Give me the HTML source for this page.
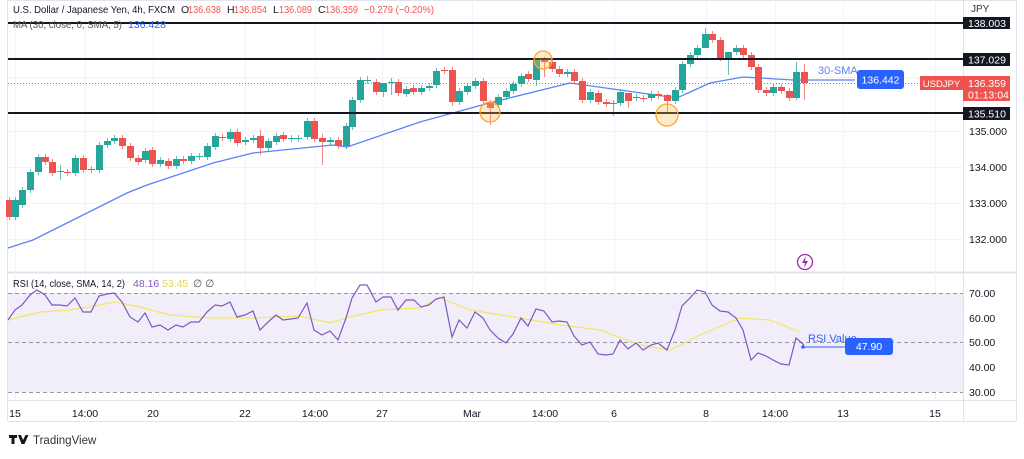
<!DOCTYPE html>
<html><head><meta charset="utf-8"><style>
html,body{margin:0;padding:0;background:#fff;}
body{width:1024px;height:454px;overflow:hidden;font-family:"Liberation Sans",sans-serif;}
svg text{font-family:"Liberation Sans",sans-serif;}
</style></head><body>
<svg id="s" width="1024" height="454" viewBox="0 0 1024 454" xmlns="http://www.w3.org/2000/svg">
<rect x="0" y="0" width="1024" height="454" fill="#fff"/>
<rect x="7.5" y="0.5" width="1009" height="421" fill="none" stroke="#e0e3eb"/>
<line x1="963.5" y1="0" x2="963.5" y2="422" stroke="#e0e3eb"/>
<line x1="8" y1="272.5" x2="1016" y2="272.5" stroke="#e0e3eb" stroke-width="2"/>
<line x1="8" y1="400.5" x2="1016" y2="400.5" stroke="#e0e3eb"/>
<rect x="8" y="293" width="955" height="99" fill="#7e57c2" fill-opacity="0.1"/>
<g id="grid" stroke="#f0f3fa"></g>
<g id="main"></g>
</svg>
<script>
const s=document.getElementById('main');const g=document.getElementById('grid');
const NS='http://www.w3.org/2000/svg';
function el(t,a,p){const e=document.createElementNS(NS,t);for(const k in a)e.setAttribute(k,a[k]);(p||s).appendChild(e);return e;}
function tx(x,y,str,a){const e=el('text',Object.assign({x:x,y:y,'font-size':10,fill:'#131722'},a||{}));e.textContent=str;return e;}
[15,85,153,245,315,382,472,545,614,706,775,843,935].forEach(x=>{el('line',{x1:x+.5,y1:0,x2:x+.5,y2:400},g);});
[131,167,203,239,77].forEach(y=>el('line',{x1:8,y1:y+.5,x2:963,y2:y+.5},g));
[318,367].forEach(y=>el('line',{x1:8,y1:y+.5,x2:963,y2:y+.5},g));
el('polyline',{points:"8,248 33,240 73,220 127,193 147,185 213,163 253,153 333,145 347,147 420,122 493,102 570,83 677,98 710,83 743,77 793,80 855,80",fill:'none',stroke:'#5b83f5','stroke-width':1.3});
const C=[[9,200,217],[15,217,200],[22,205,190],[30,190,172],[38,172,157],[45,157,162],[52,162,173],[60,172,171],[67,172,173],[75,173,158],[83,158,170],[91,170,169],[99,170,145],[107,145,141],[114,141,138],[122,138,146],[130,146,158],[138,158,162],[145,160,151],[152,150,164],[160,164,160],[168,161,166],[176,166,159],[183,159,161],[191,161,156],[199,157,156],[207,157,146],[215,147,136],[222,137,138],[230,139,132],[237,132,143],[245,142,140],[253,140,138],[260,136,148],[268,148,141],[276,142,136],[283,135,139],[291,139,138],[298,139,138],[307,137,121],[314,121,139],[322,138,142],[330,142,140],[338,140,146],[346,146,126],[352,127,100],[360,100,80],[367,81,80],[376,82,92],[383,92,83],[391,83,82],[398,82,93],[406,94,89],
[413,88,92],[421,92,88],[429,88,86],[436,85,71],[444,70,71],[452,70,102],[459,102,91],[467,92,86],[475,86,81],[483,81,101],[490,103,108],[498,105,97],[506,97,91],[513,91,84],[521,84,76],[528,74,79],[536,80,58],[544,58,62],[552,62,69],[559,69,74],[567,74,72],[574,72,81],[582,81,100],[590,100,92],[598,93,102],[606,102,104],[613,104,103],[620,103,92],[628,93,101],[636,98,97],[643,98,99],[651,98,94],[658,94,96],[667,95,101],[675,101,90],[682,90,64],[690,64,55],[697,55,48],[705,48,34],[712,34,40],[720,40,58],[728,58,52],[736,52,48],[743,48,55],[751,55,67],[758,67,90],[766,90,93],[773,93,87],[781,87,91],[789,91,98],[796,98,72],[804,72,83]];
const big={260:[130,155],322:[134,165],452:[67,106],490:[100,125],536:[60,86],544:[57,77],613:[100,116],628:[95,108],667:[94,113],705:[28,40],728:[55,75],796:[62,100],804:[64,100],220:[122,140],60:[165,180],367:[76,84],383:[85,97],391:[78,95]};
C.forEach(([x,o,c])=>{const up=c<=o;const col=up?'#26a69a':'#ef5350';const t=Math.min(o,c),b=Math.max(o,c);let w=big[x]||[t-3,b+3];el('line',{x1:x+.5,y1:w[0],x2:x+.5,y2:w[1],stroke:col,'stroke-opacity':.7});el('rect',{x:x-3,y:t,width:7,height:Math.max(1,b-t),fill:col});});
[23,59,113].forEach(y=>el('line',{x1:8,y1:y,x2:963,y2:y,stroke:'#131722','stroke-width':2}));
el('line',{x1:8,y1:83.5,x2:963,y2:83.5,stroke:'#ef5350','stroke-dasharray':'1,2','stroke-width':1});
[[543,60,9],[490,112,10],[667,115,11]].forEach(([x,y,r])=>el('circle',{cx:x,cy:y,r:r,fill:'#ffb74d','fill-opacity':.3,stroke:'#ffa726','stroke-width':1.3}));
tx(818,74,'30-SMA',{fill:'#5b83f5','font-size':11});
el('rect',{x:857,y:70,width:47,height:19,rx:3,fill:'#2962ff'});tx(880.5,83.5,'136.442',{fill:'#fff','text-anchor':'middle','font-size':10.5});
el('rect',{x:920,y:76,width:43,height:14,fill:'#ef5350'});tx(941.5,87,'USDJPY',{fill:'#fff','text-anchor':'middle','font-size':9.5});
el('rect',{x:963,y:76,width:47,height:25,fill:'#ef5350'});tx(968,87,'136.359',{fill:'#fff','font-size':10.5});tx(968,98.5,'01:13:04',{fill:'#fff','font-size':10.5});
tx(971,12,'JPY',{fill:'#333','font-size':10});
el('rect',{x:963,y:17,width:47,height:12,fill:'#131722'});tx(968,27,'138.003',{fill:'#fff','font-size':10.5});
el('rect',{x:963,y:53,width:47,height:13,fill:'#131722'});tx(968,63.5,'137.029',{fill:'#fff','font-size':10.5});
el('rect',{x:963,y:107,width:47,height:13,fill:'#131722'});tx(968,117.5,'135.510',{fill:'#fff','font-size':10.5});
[[135,131],[134,167],[133,203],[132,239]].forEach(([v,y])=>tx(969,y+4,v+'.000',{'font-size':10.5}));
// header
tx(13,13,'U.S. Dollar / Japanese Yen, 4h, FXCM',{fill:'#131722','font-size':10.5,textLength:162,lengthAdjust:'spacingAndGlyphs'});
tx(181,13,'O',{'font-size':10.5});tx(188,13,'136.638',{fill:'#ef5350','font-size':10.5,textLength:33,lengthAdjust:'spacingAndGlyphs'});
tx(227,13,'H',{'font-size':10.5});tx(234,13,'136.854',{fill:'#ef5350','font-size':10.5,textLength:33,lengthAdjust:'spacingAndGlyphs'});
tx(273,13,'L',{'font-size':10.5});tx(279,13,'136.089',{fill:'#ef5350','font-size':10.5,textLength:33,lengthAdjust:'spacingAndGlyphs'});
tx(318,13,'C',{'font-size':10.5});tx(325,13,'136.359',{fill:'#ef5350','font-size':10.5,textLength:33,lengthAdjust:'spacingAndGlyphs'});
tx(364,13,'−0.279 (−0.20%)',{fill:'#ef5350','font-size':10.5,textLength:70,lengthAdjust:'spacingAndGlyphs'});
tx(13,28,'MA (30, close, 0, SMA, 5)',{fill:'#555','font-size':10.5,textLength:109,lengthAdjust:'spacingAndGlyphs'});tx(128,28,'136.428',{fill:'#2962ff','font-size':10.5});
el('circle',{cx:805,cy:262,r:7.5,fill:'#fff',stroke:'#9c27b0','stroke-width':1.3});
el('path',{d:'M806 256 L802 263 L805 263 L804 268 L808 261 L805 261 Z',fill:'#9c27b0'});
[293,342,392].forEach(y=>el('line',{x1:8,y1:y+.5,x2:963,y2:y+.5,stroke:'#9598a1','stroke-dasharray':'4,3'}));
el('polyline',{points:"8,320 40,312 70,310 100,305 115,302 140,307 170,315 210,318 250,318 300,316 330,323 350,317 380,310 420,308 440,298 470,310 520,318 560,325 600,330 640,345 670,350 700,335 740,318 770,320 800,332",fill:'none',stroke:'#f5e663','stroke-width':1.2});
el('polyline',{points:"8,320 15,310 22,305 30,295 37,290 45,295 52,305 60,305 67,306 75,298 83,312 91,312 99,296 107,294 114,293 122,302 130,317 138,322 145,313 152,327 160,325 168,330 176,325 183,327 191,322 199,322 207,312 215,305 222,306 230,302 237,317 245,315 253,311 260,330 268,322 276,315 283,320 291,319 298,318 307,303 314,330 322,335 330,331 338,340 346,318 352,298 360,285 367,285 376,302 383,297 391,297 398,310 406,300 414,300 421,307 429,305 436,299 444,297 452,337 459,320 467,328 475,312 483,318 490,330 498,338 506,343 513,334 521,318 528,326 536,309 544,311 552,322 559,321 567,322 574,336 582,345 590,342 598,354 606,355 613,354 620,340 628,349 636,343 643,350 651,345 658,343 667,350 675,330 682,306 690,298 697,290 705,292 712,305 720,311 728,312 736,318 743,330 751,360 758,353 766,356 773,360 781,364 789,365 796,338 804,345",fill:'none',stroke:'#7e57c2','stroke-width':1.2});
el('line',{x1:803,y1:347,x2:845,y2:347,stroke:'#2962ff'});el('circle',{cx:803,cy:347,r:1.8,fill:'#2962ff'});
tx(808,342,'RSI Value',{fill:'#2962ff','font-size':11});
el('rect',{x:845,y:338,width:48,height:17,rx:3,fill:'#2962ff'});tx(869,350,'47.90',{fill:'#fff','text-anchor':'middle','font-size':10.5});
tx(13,287,'RSI (14, close, SMA, 14, 2)',{'font-size':10.5,textLength:112,lengthAdjust:'spacingAndGlyphs'});
tx(133,287,'48.16',{fill:'#7e57c2','font-size':10.5});tx(162,287,'53.45',{fill:'#e8d44d','font-size':10.5});tx(193,287,'∅  ∅',{fill:'#555','font-size':10.5});
[[70,293],[60,318],[50,342],[40,367],[30,392]].forEach(([v,y])=>tx(969,y+4,v+'.00',{'font-size':10.5}));
[[15,'15'],[85,'14:00'],[153,'20'],[245,'22'],[315,'14:00'],[382,'27'],[472,'Mar'],[545,'14:00'],[614,'6'],[706,'8'],[775,'14:00'],[843,'13'],[935,'15']].forEach(([x,t])=>tx(x,417,t,{'text-anchor':'middle','font-size':10.5}));
el('path',{d:'M9 435 h8 v3 h-2.5 v6 h-3 v-6 h-2.5 z M18 435 h3 l2 5 l2.5 -5 h3 l-4 9 h-3 z',fill:'#131722'});
tx(33,444,'TradingView',{fill:'#333','font-size':11.5});
</script>
</body></html>
